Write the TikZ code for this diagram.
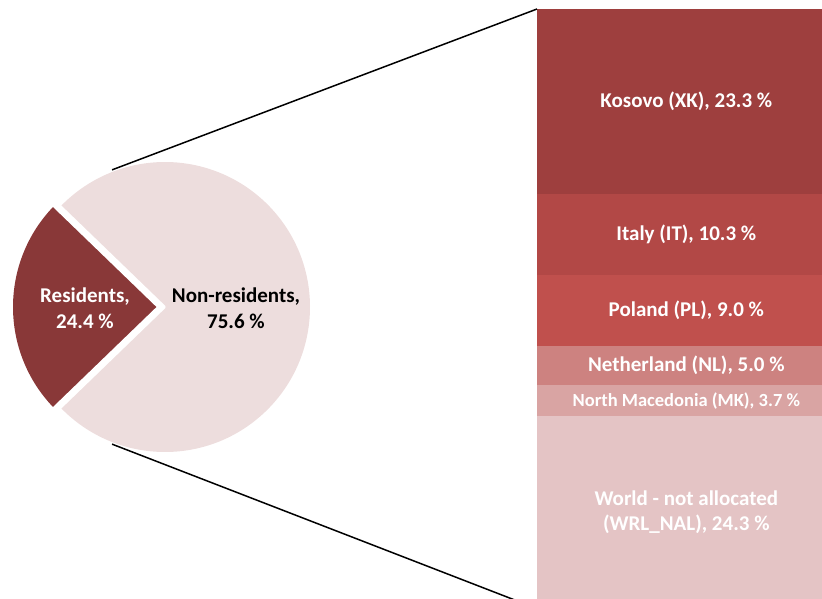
\documentclass[tikz,border=0pt]{standalone}
\usepackage{fontspec}
\setmainfont{Carlito}
\usepackage{tikz}
\usetikzlibrary{positioning}
\definecolor{rescolor}{RGB}{137,56,56}
\definecolor{nonrescolor}{RGB}{237,221,221}
\definecolor{xkcolor}{RGB}{158,63,62}
\definecolor{itcolor}{RGB}{178,72,70}
\definecolor{plcolor}{RGB}{192,80,77}
\definecolor{nlcolor}{RGB}{205,130,128}
\definecolor{mkcolor}{RGB}{217,164,163}
\definecolor{wrlcolor}{RGB}{228,196,197}

\begin{document}
\begin{tikzpicture}[
	x=1pt, y=1pt,
	slice/.style={
		draw=white,
		line width=2pt},
	seg/.style={
		rectangle,
		inner sep=0pt,
		fill=#1,
		draw=#1,
		line width=0.6pt,
		minimum width=298pt,
		text=white,
		font=\bfseries\fontsize{21}{25.6}\selectfont},
	label/.style={
		align=center,
		font=\bfseries\fontsize{21}{25.6}\selectfont},
	line/.style={
	draw,
	line width=1.5pt}]

    \clip (0,0) rectangle (822,598);
    % Pie
    \coordinate (pie) at (165,291);
    \coordinate (respie) at (158,291);
    \fill [nonrescolor] (pie) -- ++(-136:145) arc[start angle=-136, end angle=136, radius=145] -- cycle;
    \fill [rescolor] (respie) -- ++(136:145) arc[start angle=136, end angle=224, radius=145] -- cycle;
    \draw [slice] (pie) -- ++(136:146) (pie) -- ++(224:146);
    \draw [slice] (respie) -- ++(136:146) (respie) -- ++(224:146);
    \node [label, text=white] (res) at (85,290) {Residents,\\24.4 \%};
    \node [label] (nonres) at (236,290) {Non-residents,\\75.6 \%};
    \coordinate (top) at ([shift={(111.1:147)}]pie);
    \coordinate (bot) at ([shift={(248.9:147)}]pie);

    % Place nodes
    \node [seg=xkcolor, minimum height=184pt, anchor=north west] (xk) at (537,589) {Kosovo (XK), 23.3 \%};
    \node [seg=itcolor, minimum height=81pt, below=0pt of xk] (it) {Italy (IT), 10.3 \%};
    \node [seg=plcolor, minimum height=70pt, below=0pt of it] (pl) {Poland (PL), 9.0 \%};
    \node [seg=nlcolor, minimum height=39pt, below=0pt of pl] (nl) {Netherland (NL), 5.0 \%};
    \node [seg=mkcolor, minimum height=30pt, below=0pt of nl, font=\bfseries\fontsize{18.5}{22}\selectfont] (mk) {North Macedonia (MK), 3.7 \%};
    \node [seg=wrlcolor, minimum height=192pt, below=0pt of mk, align=center] (wrl) {World - not allocated\\(WRL\_NAL), 24.3 \%};
    % Draw edges
    \path [line] (top) -- (xk.north west);
    \path [line] (bot) -- (wrl.south west);
\end{tikzpicture}
\end{document}
